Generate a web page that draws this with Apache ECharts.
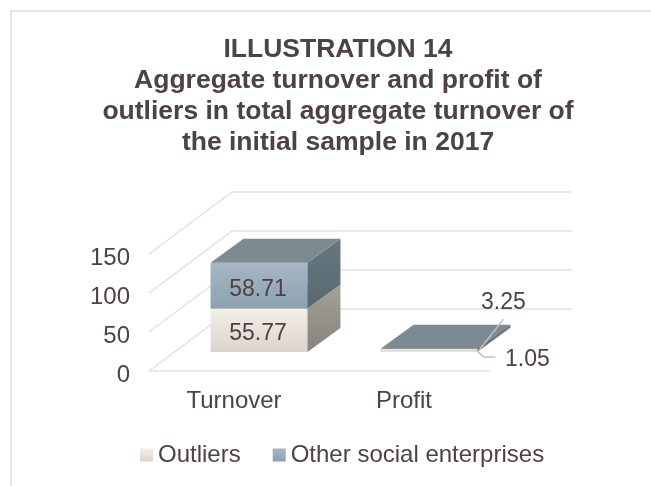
<!DOCTYPE html>
<html>
<head>
<meta charset="utf-8">
<style>html,body{margin:0;padding:0;background:#fff}#c{width:651px;height:486px}</style>
<script src="https://cdn.jsdelivr.net/npm/echarts@6/dist/echarts.min.js"></script>
</head>
<body>
<div id="c"></div>
<script>
var categories = ['Turnover', 'Profit'];
var outliers = [55.77, 1.05];
var otherEnterprises = [58.71, 3.25];
var yTicks = [0, 50, 100, 150];
var titleLines = ['ILLUSTRATION 14', 'Aggregate turnover and profit of', 'outliers in total aggregate turnover of', 'the initial sample in 2017'];

var FONT = '"Liberation Sans", Arial, sans-serif';
var TEXT = '#4d4247';
var LINE = '#e6e0e1';
// 3D projection
var WALL_DX = 83, WALL_DY = 62;
var BAR_DX = 25, BAR_DY = 19;
var DEPTH_DX = 33, DEPTH_DY = 24;
var BAR_FRACTION = 0.57;

function grad(a, b) {
  return {type: 'linear', x: 0, y: 0, x2: 0, y2: 1, colorStops: [{offset: 0, color: a}, {offset: 1, color: b}]};
}
function poly(points, fill) {
  return {type: 'polygon', shape: {points: points}, style: {fill: fill}, silent: true};
}
function leader(points) {
  return {type: 'polyline', shape: {points: points}, style: {fill: 'none', stroke: '#c9bdc1', lineWidth: 1.5}, silent: true};
}
function label(text, x, y) {
  return {type: 'text', style: {text: text, x: x, y: y, fill: TEXT, font: '23px ' + FONT, align: 'center', verticalAlign: 'middle'}, silent: true};
}

function barRenderer(values, bases, colors, labelFor) {
  return function (params, api) {
    var i = api.value(0);
    var base = bases ? bases[i] : 0;
    var bottom = api.coord([i, base]);
    var top = api.coord([i, base + values[i]]);
    var w = api.size([1, 0])[0] * BAR_FRACTION;
    var x0 = bottom[0] - w / 2 + BAR_DX, x1 = x0 + w;
    var yb = bottom[1] - BAR_DY, yt = top[1] - BAR_DY;
    // very thin fronts only show their pale bevel edge
    var front = (yb - yt) < 5 ? '#e4e1dd' : colors.front;
    var children = [
      poly([[x0, yt], [x1, yt], [x1, yb], [x0, yb]], front),
      poly([[x1, yt], [x1 + DEPTH_DX, yt - DEPTH_DY], [x1 + DEPTH_DX, yb - DEPTH_DY], [x1, yb]], colors.side),
      poly([[x0, yt], [x0 + DEPTH_DX, yt - DEPTH_DY], [x1 + DEPTH_DX, yt - DEPTH_DY], [x1, yt]], colors.top)
    ];
    return {type: 'group', children: children.concat(labelFor(i, values[i].toFixed(2), x0, x1, yb, yt))};
  };
}

var outlierColors = {front: grad('#f3efe9', '#dcd4cc'), side: grad('#a3a19a', '#85837a'), top: '#c9c3bb'};
var otherColors = {front: grad('#a6b7c3', '#8da1b0'), side: grad('#66777f', '#58686f'), top: '#7c8b92'};

var option = {
  backgroundColor: '#fff',
  animation: false,
  title: {
    text: titleLines.join('\n'),
    left: 333, top: 29, textAlign: 'center',
    textStyle: {fontFamily: FONT, fontWeight: 'bold', fontSize: 26.5, lineHeight: 31, color: TEXT}
  },
  legend: {
    left: 135, top: 438,
    itemWidth: 13, itemHeight: 13, itemGap: 32,
    icon: 'rect',
    data: ['Outliers', 'Other social enterprises'],
    textStyle: {fontFamily: FONT, fontSize: 24, color: TEXT}
  },
  grid: {left: 149, right: 162, top: 254, bottom: 115},
  xAxis: {
    type: 'category', data: categories,
    axisLine: {show: true, lineStyle: {color: LINE, width: 1.5}},
    axisTick: {show: false},
    axisLabel: {fontFamily: FONT, fontSize: 24, color: TEXT, margin: 18}
  },
  yAxis: {
    type: 'value', min: 0, max: 150, interval: 50,
    axisLine: {show: false}, axisTick: {show: false}, splitLine: {show: false},
    axisLabel: {
      margin: 19,
      formatter: '{t|{value}}',
      rich: {t: {fontFamily: FONT, fontSize: 24, color: TEXT, padding: [8, 0, 0, 0]}}
    }
  },
  graphic: [
    {type: 'polyline', silent: true, z: -1, shape: {points: [[11, 486], [11, 11], [651, 11]]}, style: {fill: 'none', stroke: '#e8e4e5', lineWidth: 2}}
  ],
  series: [
    {
      name: 'walls', type: 'custom', silent: true, z: 1,
      data: yTicks.map(function (t) { return [0, t]; }),
      encode: {x: 0, y: 1},
      renderItem: function (params, api) {
        var y = api.coord([0, api.value(1)])[1];
        var r = params.coordSys;
        var style = {fill: 'none', stroke: LINE, lineWidth: 1.5};
        return {type: 'polyline', silent: true, shape: {points: [[r.x, y], [r.x + WALL_DX, y - WALL_DY], [r.x + r.width + WALL_DX, y - WALL_DY]]}, style: style};
      }
    },
    {
      name: 'Outliers', type: 'custom', z: 2, silent: true,
      itemStyle: {color: grad('#f3efe9', '#dcd4cc')},
      data: categories.map(function (c, i) { return [i, outliers[i]]; }),
      encode: {x: 0, y: 1},
      renderItem: barRenderer(outliers, null, outlierColors, function (i, text, x0, x1, yb, yt) {
        if (i === 0) return [label(text, (x0 + x1) / 2 - 1, (yb + yt) / 2 + 3)];
        return [leader([[x1, yb - 1], [x1 + 6, yb + 5], [x1 + 18, yb + 5]]), label(text, x1 + 50, yb + 8)];
      })
    },
    {
      name: 'Other social enterprises', type: 'custom', z: 3, silent: true,
      itemStyle: {color: grad('#a6b7c3', '#8da1b0')},
      data: categories.map(function (c, i) { return [i, outliers[i] + otherEnterprises[i]]; }),
      encode: {x: 0, y: 1},
      renderItem: barRenderer(otherEnterprises, outliers, otherColors, function (i, text, x0, x1, yb, yt) {
        if (i === 0) return [label(text, (x0 + x1) / 2 - 1, (yb + yt) / 2 + 4)];
        return [leader([[x1, yb + 1], [x1 + 26, yb - 32]]), label(text, x1 + 26, yb - 49)];
      })
    }
  ]
};
echarts.init(document.getElementById('c'), null, {renderer: 'canvas'}).setOption(option);
</script>
</body>
</html>
